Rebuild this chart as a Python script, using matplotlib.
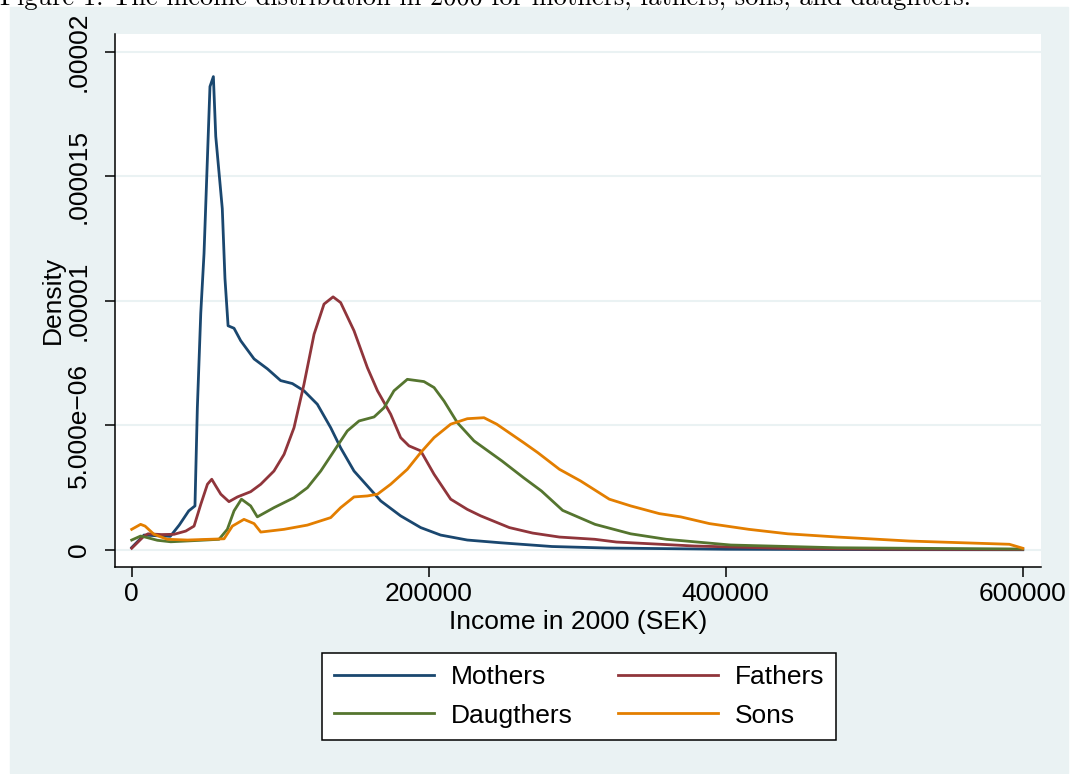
import numpy as np
import matplotlib
matplotlib.use("Agg")
import matplotlib.pyplot as plt
from matplotlib.patches import Rectangle
from matplotlib.ticker import FixedLocator, FixedFormatter

# income in thousands SEK, density in 1e-6
mothers_x = [0, 8.3, 18, 26, 32, 38.4, 42.6, 44.2, 46.5, 48.7, 51, 52.7, 55, 56.6,
             61, 62.8, 64.9, 68.9, 73.4, 82.4, 91.4, 100.3, 108.2, 116, 125, 134,
             140.7, 149.7, 158.7, 167.7, 181.1, 194.6, 208, 226, 248.5, 283, 320,
             400, 500, 600]
mothers_y = [0.1, 0.6, 0.57, 0.55, 1.0, 1.57, 1.77, 5.7, 9.5, 11.9, 15.75, 18.6, 19.0, 16.6,
             13.7, 10.9, 9.0, 8.9, 8.4, 7.67, 7.27, 6.8, 6.68, 6.39, 5.85, 4.91,
             4.1, 3.17, 2.57, 1.97, 1.37, 0.9, 0.6, 0.4, 0.29, 0.14, 0.08,
             0.03, 0.015, 0.01]

fathers_x = [0, 8.3, 11, 20, 28.5, 36.4, 42, 46.5, 51, 53.9, 56.6, 60, 65.5, 71.2,
             80.1, 86.9, 95.8, 102.6, 109.3, 116, 122.8, 129.5, 135.6, 140.7, 149.7,
             158.7, 165.5, 174.4, 181.1, 186.7, 194.6, 203.6, 214.8, 226, 235, 254.3,
             270, 288, 311.8, 326.4, 379, 451, 520, 600]
fathers_y = [0.07, 0.56, 0.65, 0.62, 0.63, 0.76, 0.96, 1.83, 2.64, 2.84, 2.57, 2.24, 1.94, 2.13,
             2.34, 2.64, 3.17, 3.84, 4.91, 6.65, 8.66, 9.87, 10.16, 9.93, 8.8,
             7.32, 6.39, 5.45, 4.51, 4.18, 3.98, 3.04, 2.04, 1.63, 1.37, 0.9,
             0.68, 0.52, 0.43, 0.32, 0.16, 0.05, 0.03, 0.02]

daughters_x = [0, 6, 9, 17.3, 26.3, 46.5, 58.8, 64.4, 68.9, 73.9, 80.1, 84.6, 95.8,
               109.3, 118.3, 127.3, 136.3, 145.2, 153.1, 163.2, 169.9, 176.6, 185.6,
               196.8, 203.6, 210.3, 219.3, 230.5, 249.4, 263.9, 275.9, 290.2, 312,
               336, 360, 403.4, 475, 600]
daughters_y = [0.4, 0.56, 0.52, 0.39, 0.33, 0.39, 0.43, 0.83, 1.57, 2.04, 1.77, 1.33, 1.7,
               2.1, 2.5, 3.17, 3.98, 4.78, 5.18, 5.34, 5.71, 6.39, 6.85,
               6.76, 6.52, 5.98, 5.11, 4.38, 3.57, 2.9, 2.37, 1.59, 1.03,
               0.65, 0.43, 0.2, 0.09, 0.04]

sons_x = [0, 6, 9, 15, 24, 37.5, 62.2, 67.8, 75.6, 82.4, 86.9, 102.6, 118.3, 134,
          140.7, 149.7, 158.7, 165.5, 174.4, 185.6, 194.6, 203.6, 214.8, 226, 237.2,
          245.8, 263.9, 273.4, 288, 302.3, 321.6, 336, 355.3, 369.7, 389, 415.5,
          441.8, 475.5, 523.6, 591, 600]
sons_y = [0.83, 1.03, 0.96, 0.63, 0.43, 0.4, 0.45, 0.96, 1.23, 1.06, 0.72, 0.83, 1.0, 1.3,
          1.7, 2.13, 2.17, 2.24, 2.64, 3.24, 3.91, 4.51, 5.05, 5.27, 5.31,
          5.05, 4.31, 3.91, 3.24, 2.77, 2.04, 1.77, 1.46, 1.33, 1.06, 0.83,
          0.65, 0.52, 0.36, 0.23, 0.07]

x_ticks = [0, 200000, 400000, 600000]
x_ticklabels = ["0", "200000", "400000", "600000"]
y_ticks = [0, 5e-6, 1e-5, 1.5e-5, 2e-5]
y_ticklabels = ["0", "5.000e\u221206", ".00001", ".000015", ".00002"]

caption = "Figure 1: The income distribution in 2000 for mothers, fathers, sons, and daughters."

bg = "#EAF2F3"
colors = {"Mothers": "#1a476f", "Fathers": "#90353b",
          "Daugthers": "#55752f", "Sons": "#e37e00"}

plt.rcParams["font.family"] = ["Liberation Sans", "DejaVu Sans"]

W, H = 1073, 774
fig = plt.figure(figsize=(W / 100, H / 100), dpi=100, facecolor="white")
fig.patches.append(Rectangle((10 / W, 1 - 773 / H), 1058 / W, 765.7 / H,
                             transform=fig.transFigure, color=bg, zorder=-5))

ax = fig.add_axes([115 / W, 1 - 566.5 / H, 926 / W, 532.2 / H])
ax.set_facecolor("white")

series = [("Mothers", mothers_x, mothers_y), ("Fathers", fathers_x, fathers_y),
          ("Daugthers", daughters_x, daughters_y), ("Sons", sons_x, sons_y)]
handles = {}
for name, xs, ys in series:
    ln, = ax.plot(np.array(xs) * 1000, np.array(ys) * 1e-6, color=colors[name],
                  lw=2.0, label=name, solid_joinstyle="round")
    handles[name] = ln

ax.set_xlim(-11246, 612300)
ax.set_ylim(-6.62e-7, 2.0698e-5)

ax.xaxis.set_major_locator(FixedLocator(x_ticks))
ax.xaxis.set_major_formatter(FixedFormatter(x_ticklabels))
ax.yaxis.set_major_locator(FixedLocator(y_ticks))
ax.yaxis.set_major_formatter(FixedFormatter(y_ticklabels))

ax.tick_params(axis="both", direction="out", length=7.2, width=1.1,
               labelsize=19, color="black")
ax.tick_params(axis="x", pad=3.8)
ax.tick_params(axis="y", pad=10)
for lab in ax.get_yticklabels():
    lab.set_rotation(90)
    lab.set_va("center")

ax.grid(axis="y", color=bg, lw=1.5)
ax.set_axisbelow(True)
for s in ["top", "right"]:
    ax.spines[s].set_visible(False)
for s in ["left", "bottom"]:
    ax.spines[s].set_linewidth(1.1)

ax.set_xlabel("Income in 2000 (SEK)", fontsize=19, va="center")
ax.xaxis.set_label_coords(0.5, -0.104)
ax.set_ylabel("Density", fontsize=19, va="center")
ax.yaxis.set_label_coords(-0.067, 0.5)

# row-wise legend order: Mothers Fathers / Daugthers Sons
order = ["Mothers", "Daugthers", "Fathers", "Sons"]
leg = fig.legend([handles[n] for n in order], order,
                 loc="center", bbox_to_anchor=(579.2 / W, 1 - 696.4 / H),
                 ncol=2, fontsize=19, frameon=True, fancybox=False,
                 framealpha=1, edgecolor="black", borderpad=0.45,
                 labelspacing=0.55, handlelength=3.79, handletextpad=0.62,
                 columnspacing=1.75)
leg.get_frame().set_linewidth(1.1)
for line in leg.get_lines():
    line.set_linewidth(2.0)

fig.text(0.0, 1 - 5 / H, caption, family="cmr10", fontsize=19,
         ha="left", va="baseline")

fig.savefig("out.png", dpi=100, facecolor="white")
